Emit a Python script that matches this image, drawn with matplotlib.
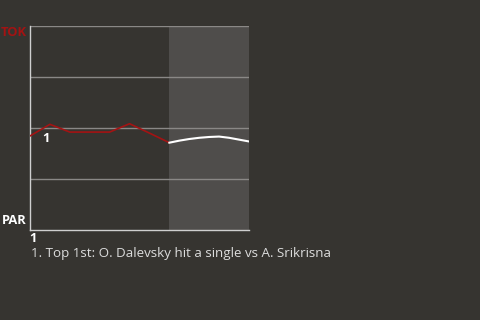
import matplotlib
matplotlib.use("Agg")
import matplotlib.pyplot as plt

# win-probability style track: 0 = PAR, 1 = TOK
played_x = [0, 1, 2, 3, 4, 5, 6, 7]
played_y = [0.461, 0.518, 0.48, 0.48, 0.48, 0.521, 0.475, 0.428]
proj_x = [7, 7.5, 8, 8.5, 9, 9.5, 10, 10.5, 11]
proj_y = [0.428, 0.438, 0.446, 0.452, 0.456, 0.458, 0.452, 0.443, 0.434]
grid_levels = [0.25, 0.5, 0.75, 1.0]
caption = "1. Top 1st: O. Dalevsky hit a single vs A. Srikrisna"

bg = "#363430"
fig = plt.figure(figsize=(4.8, 3.2), dpi=100, facecolor=bg)
ax = fig.add_axes([30 / 480, 90 / 320, 219 / 480, 204 / 320])
ax.set_facecolor(bg)
ax.set_xlim(0, 11)
ax.set_ylim(0, 1)

ax.axvspan(7, 11, color="#4f4d4b", lw=0, zorder=0)
for g in grid_levels:
    ax.axhline(g, color="#8a8886", lw=1, zorder=1)

ax.plot(played_x, played_y, color="#a31313", lw=1.2, zorder=3)
ax.plot(proj_x, proj_y, color="white", lw=1.5, zorder=3)

for s in ["top", "right"]:
    ax.spines[s].set_visible(False)
for s in ["left", "bottom"]:
    ax.spines[s].set_color("#cfcfcf")
    ax.spines[s].set_linewidth(1)
ax.set_xticks([])
ax.set_yticks([])

font = "Open Sans"
fs = 9.3
fig.text(27 / 480, 1 - 33 / 320, "TOK", color="#a31313", fontsize=fs,
         fontweight="bold", ha="right", va="center", family=font)
fig.text(27 / 480, 1 - 221 / 320, "PAR", color="white", fontsize=fs,
         fontweight="bold", ha="right", va="center", family=font)
ax.text(0.8, 0.45, "1", color="white", fontsize=fs,
        fontweight="bold", ha="center", va="center", family=font)
fig.text(33 / 480, 1 - 238 / 320, "1", color="white", fontsize=fs,
         fontweight="bold", ha="center", va="center", family=font)
fig.text(31 / 480, 1 - 254 / 320, caption, color="#dcdcdc", fontsize=9.6,
         ha="left", va="center", family=font)

fig.savefig("out.png", dpi=100, facecolor=bg)
